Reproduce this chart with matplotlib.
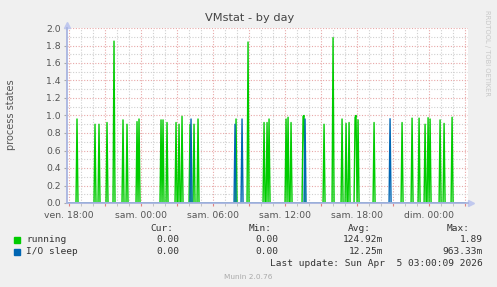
import numpy as np
import matplotlib.pyplot as plt
from matplotlib.ticker import MultipleLocator, FixedLocator
from matplotlib.patches import Rectangle

# spike times in hours after ven. 18:00, heights
run_t = [0.67, 2.17, 2.50, 3.17, 3.75, 4.50, 4.83, 5.62, 5.83, 7.62, 7.78, 8.17,
         8.92, 9.17, 9.42, 10.08, 10.42, 10.75, 13.92, 14.92, 16.25, 16.45, 16.67,
         18.08, 18.25, 18.45, 19.45, 19.53, 21.20, 22.00, 22.75, 23.08, 23.33,
         23.83, 23.92, 24.08, 25.42, 27.75, 28.58, 29.17, 29.67, 29.92, 30.08,
         30.92, 31.25, 31.92]
run_v = [0.96, 0.90, 0.90, 0.92, 1.85, 0.95, 0.90, 0.93, 0.96, 0.95, 0.95, 0.92,
         0.92, 0.90, 0.99, 0.90, 0.90, 0.96, 0.96, 1.84, 0.92, 0.92, 0.96,
         0.96, 0.98, 0.92, 0.99, 1.00, 0.90, 1.89, 0.96, 0.91, 0.92,
         0.98, 1.00, 0.95, 0.92, 0.92, 0.97, 0.97, 0.90, 0.975, 0.96,
         0.95, 0.91, 0.98]
io_t = [10.17, 13.83, 14.42, 19.67, 26.75]
io_v = [0.96, 0.90, 0.96, 0.96, 0.963]

x_ticks = [0, 6, 12, 18, 24, 30]
x_labels = ["ven. 18:00", "sam. 00:00", "sam. 06:00", "sam. 12:00", "sam. 18:00", "dim. 00:00"]

cols = ["Cur:", "Min:", "Avg:", "Max:"]
rows = [("running", "#00CC00", ["0.00", "0.00", "124.92m", "1.89"]),
        ("I/O sleep", "#0066B3", ["0.00", "0.00", "12.25m", "963.33m"])]

# 5 minute samples
t0, t1 = -0.19, 33.0
step = 1 / 12
tt = t0 + np.arange(int(round((t1 - t0) / step)) + 1) * step


def series(ts, vs):
    y = np.zeros(len(tt))
    for t, v in zip(ts, vs):
        y[int(round((t - t0) / step))] = v
    return y


W, H = 497, 287
fig = plt.figure(figsize=(W / 100, H / 100), dpi=100, facecolor="#F0F0F0")
ax = fig.add_axes([67 / W, 1 - 203 / H, (468 - 67) / W, (203 - 28) / H])
ax.set_facecolor("white")

ax.plot(tt, series(run_t, run_v), color="#00CC00", lw=1.0, zorder=1.5)
ax.plot(tt, series(io_t, io_v), color="#0066B3", lw=1.0, zorder=1.5)

ax.set_xlim(t0, 33.22)
ax.set_ylim(0, 2.0)

ax.xaxis.set_major_locator(FixedLocator(np.arange(0, 34, 3)))
ax.set_xticklabels([x_labels[x_ticks.index(v)] if v in x_ticks else "" for v in range(0, 34, 3)])
ax.xaxis.set_minor_locator(MultipleLocator(1))
ax.yaxis.set_major_locator(MultipleLocator(0.2))
ax.yaxis.set_minor_locator(MultipleLocator(0.1))
ax.yaxis.set_major_formatter(plt.FormatStrFormatter("%.1f"))

ax.grid(which="major", color="#E8A8A8", ls=(0, (1, 1.5)), lw=0.8)
ax.grid(which="minor", color="#D0D0D0", ls=(0, (1, 1.5)), lw=0.8)
ax.set_axisbelow(True)

ax.tick_params(axis="x", which="major", length=2.5, color="#E08080", labelsize=6.7,
               labelcolor="#555555", pad=3)
ax.tick_params(axis="x", which="minor", length=2, color="#BBBBBB")
ax.tick_params(axis="y", which="major", length=2.5, color="#AAAAAA", labelsize=6.7,
               labelcolor="#555555", pad=2)
ax.tick_params(axis="y", which="minor", length=0)

for s in ["top", "right"]:
    ax.spines[s].set_visible(False)
for s in ["left", "bottom"]:
    ax.spines[s].set_color("#A8B4E0")
    ax.spines[s].set_linewidth(1.3)
    ax.spines[s].set_zorder(3)

# axis arrows
ax.plot([t0], [2.04], marker="^", ms=4, color="#C0C8EE", clip_on=False)
ax.plot([33.45], [0], marker=">", ms=4, color="#C0C8EE", clip_on=False)

fig.text(250 / W, 1 - 18 / H, "VMstat - by day", ha="center", va="center",
         fontsize=8.2, color="#444444")
fig.text(11 / W, 1 - 115 / H, "process states", rotation=90, ha="center", va="center",
         fontsize=7, color="#555555")
fig.text(487 / W, 1 - 53 / H, "RRDTOOL / TOBI OETIKER", rotation=270, ha="center",
         va="center", fontsize=4.9, color="#C8C8C8")

mono = dict(family="DejaVu Sans Mono", fontsize=6.8, color="#333333", va="center")
col_right = [173, 272, 371, 470]
val_right = [179, 278, 383, 483]
for c, xr in zip(cols, col_right):
    fig.text(xr / W, 1 - 228.5 / H, c, ha="right", **mono)
for i, (name, colr, vals) in enumerate(rows):
    y = 240 + i * 11.6
    fig.patches.append(Rectangle((14 / W, 1 - (y + 3) / H), 6 / W, 6 / H,
                                 transform=fig.transFigure, color=colr))
    fig.text(26.5 / W, 1 - y / H, name, ha="left", **mono)
    for v, xr in zip(vals, val_right):
        fig.text(xr / W, 1 - y / H, v, ha="right", **mono)
fig.text(483 / W, 1 - 263.7 / H, "Last update: Sun Apr  5 03:00:09 2026", ha="right", **mono)
fig.text(248 / W, 1 - 277 / H, "Munin 2.0.76", ha="center", va="center",
         fontsize=5.3, color="#AAAAAA")

fig.savefig("out.png", dpi=100, facecolor=fig.get_facecolor())
